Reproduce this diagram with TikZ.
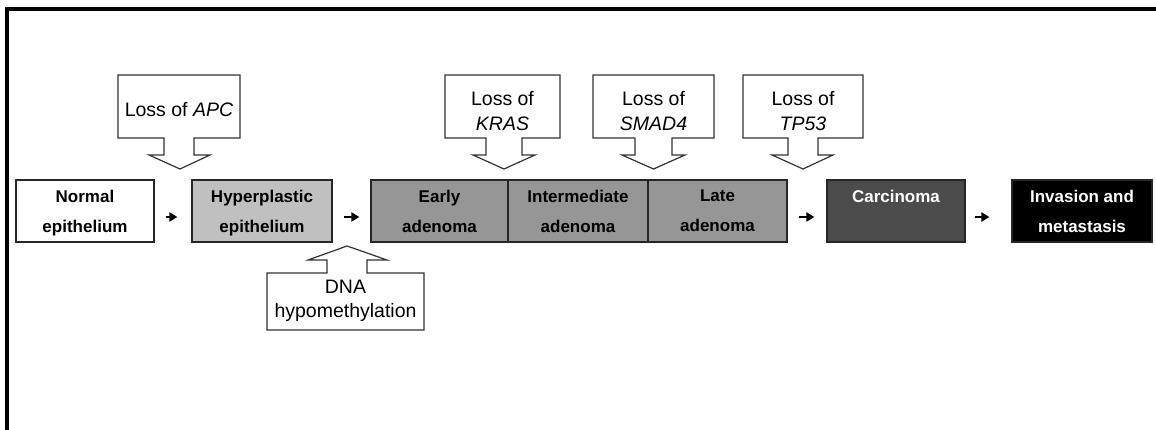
\documentclass[tikz,border=0pt]{standalone}
\usepackage{fontspec}
\setmainfont{Liberation Sans}
\usetikzlibrary{arrows.meta}
\definecolor{hyper}{HTML}{C0C0C0}
\definecolor{aden}{HTML}{969696}
\definecolor{carc}{HTML}{4B4B4B}
\begin{document}
\begin{tikzpicture}[x=1pt,y=-1pt,
  stage/.style={draw=black!85,line width=1.2pt,minimum height=62pt,inner sep=0pt},
  stagetext/.style={anchor=north,inner sep=0pt,align=center,font=\fontsize{17}{30}\selectfont\bfseries},
  callout/.style={draw=black!80,line width=1.2pt,fill=white,line join=miter},
  callouttext/.style={anchor=north,inner sep=0pt,align=center,font=\fontsize{19.5}{25}\selectfont},
  flow/.style={line width=2pt,-{Triangle[length=8pt,width=9pt]}}]
\useasboundingbox (0,0) rectangle (1156,430);
\fill[white] (0,0) rectangle (1156,430);
% frame
\draw[line width=4pt] (7,430) -- (7,9.5) -- (1156,9.5);

% stages
\node[stage,fill=white,minimum width=138pt] (normal) at (85,211) {};
\node[stage,fill=hyper,minimum width=140pt] (hyper) at (262,211) {};
\node[stage,fill=aden,minimum width=137pt] (early) at (439.5,211) {};
\node[stage,fill=aden,minimum width=140pt] (inter) at (578,211) {};
\node[stage,fill=aden,minimum width=139pt] (late) at (717.5,211) {};
\node[stage,fill=carc,minimum width=138pt] (carc) at (896,211) {};
\node[stage,fill=black,minimum width=140pt] (inv) at (1082,211) {};

\node[stagetext] (tnormal) at (85,190) {Normal\\epithelium};
\node[stagetext] (thyper) at (262,190) {Hyperplastic\\epithelium};
\node[stagetext] (tearly) at (439.5,190) {Early\\adenoma};
\node[stagetext] (tinter) at (578,190) {Intermediate\\adenoma};
\node[stagetext] (tlate) at (717.5,190) {Late\\adenoma};
\node[stagetext,text=white] (tcarc) at (896,190) {Carcinoma};
\node[stagetext,text=white] (tinv) at (1082,190) {Invasion and\\metastasis};

% flow arrows
\draw[flow,shorten <=11pt,shorten >=14pt] ([yshift=-6pt]normal.east) -- ([yshift=-6pt]hyper.west);
\draw[flow,shorten <=11pt,shorten >=11pt] ([yshift=-6pt]hyper.east) -- ([yshift=-6pt]early.west);
\draw[flow,shorten <=11pt,shorten >=12pt] ([yshift=-6pt]late.east) -- ([yshift=-6pt]carc.west);
\draw[flow,shorten <=9pt,shorten >=22pt] ([yshift=-6pt]carc.east) -- ([yshift=-6pt]inv.west);

% callouts (down)
\draw[callout] (118,75) -- (240,75) -- (240,138) -- (194,138) -- (194,155) -- (210,155) -- (180,169) -- (149,155) -- (164,155) -- (164,138) -- (118,138) -- cycle;
\node[callouttext] (capc) at (179,102) {Loss of \textit{APC}};

\draw[callout] (445,75) -- (560,75) -- (560,138) -- (522,138) -- (522,155) -- (535,155) -- (504,169) -- (473,155) -- (486,155) -- (486,138) -- (445,138) -- cycle;
\node[callouttext] (ckras) at (502.5,91) {Loss of\\\textit{KRAS}};

\draw[callout] (593,75) -- (714,75) -- (714,138) -- (672,138) -- (672,155) -- (685,155) -- (653.5,169) -- (622,155) -- (635,155) -- (635,138) -- (593,138) -- cycle;
\node[callouttext] (csmad) at (653.5,91) {Loss of\\\textit{SMAD4}};

\draw[callout] (743,75) -- (863,75) -- (863,138) -- (818,138) -- (818,155) -- (833,155) -- (803,169) -- (772,155) -- (788,155) -- (788,138) -- (743,138) -- cycle;
\node[callouttext] (ctp) at (803,91) {Loss of\\\textit{TP53}};

% callout (up)
\draw[callout] (267,330) -- (424,330) -- (424,273) -- (367,273) -- (367,260) -- (387,260) -- (347,246) -- (308,260) -- (327,260) -- (327,273) -- (267,273) -- cycle;
\node[callouttext,font=\fontsize{19.5}{24}\selectfont] (cdna) at (345.5,280) {DNA\\hypomethylation};
\end{tikzpicture}
\end{document}
